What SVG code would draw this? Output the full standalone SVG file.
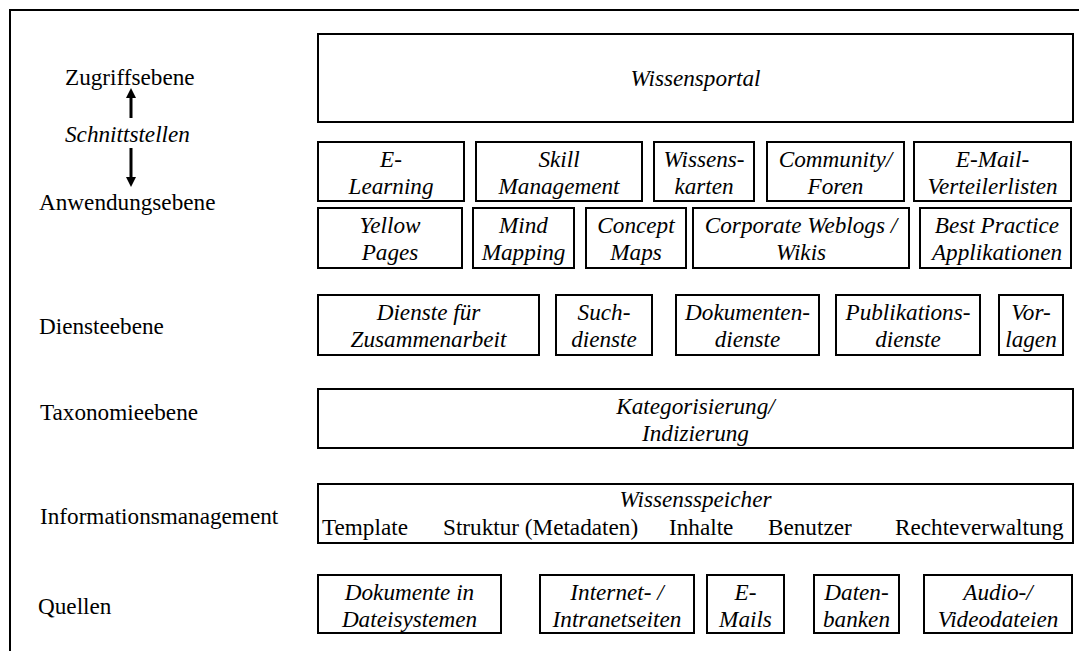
<svg xmlns="http://www.w3.org/2000/svg" width="1079" height="651" viewBox="0 0 1079 651">
  <style>
    text { font-family: "Liberation Serif", "Times New Roman", serif; font-size: 23.2px; fill: #000; }
    .it { font-style: italic; }
    .c { text-anchor: middle; }
    .box { fill: #fff; stroke: #000; stroke-width: 2; }
    .frame { fill: none; stroke: #000; stroke-width: 2; }
    .conn { stroke: #000; stroke-width: 3; fill: none; }
  </style>
  <defs>
    <marker id="head" viewBox="0 0 10 10" refX="0" refY="5" markerWidth="10" markerHeight="10" markerUnits="userSpaceOnUse" orient="auto">
      <path d="M0,0 L10,5 L0,10 Z" fill="#000"/>
    </marker>
  </defs>
  <rect width="1079" height="651" fill="#fff"/>

  <!-- open outer frame: top and left edges only -->
  <path class="frame" d="M10,651 V10 H1079"/>

  <!-- layer labels -->
  <g id="labels">
    <text x="65" y="85">Zugriffsebene</text>
    <text class="it" x="65" y="142">Schnittstellen</text>
    <text x="39" y="210">Anwendungsebene</text>
    <text x="39" y="334">Diensteebene</text>
    <text x="40" y="420">Taxonomieebene</text>
    <text x="40" y="524">Informationsmanagement</text>
    <text x="38" y="614">Quellen</text>
  </g>

  <!-- interface arrows -->
  <g id="connectors">
    <line class="conn" x1="131" y1="118" x2="131" y2="98" marker-end="url(#head)"/>
    <line class="conn" x1="131" y1="148" x2="131" y2="177" marker-end="url(#head)"/>
  </g>

  <!-- access layer -->
  <g id="wissensportal">
    <rect class="box" x="318" y="34" width="755" height="88"/>
    <text class="it c" x="695.5" y="86">Wissensportal</text>
  </g>

  <!-- application layer, row 1 -->
  <g id="e-learning">
    <rect class="box" x="318" y="142" width="146" height="59"/>
    <text class="it c" x="391" y="167">E-</text>
    <text class="it c" x="391" y="194">Learning</text>
  </g>
  <g id="skill-management">
    <rect class="box" x="476" y="142" width="166" height="59"/>
    <text class="it c" x="559" y="167">Skill</text>
    <text class="it c" x="559" y="194">Management</text>
  </g>
  <g id="wissenskarten">
    <rect class="box" x="654" y="142" width="100" height="59"/>
    <text class="it c" x="704" y="167">Wissens-</text>
    <text class="it c" x="704" y="194">karten</text>
  </g>
  <g id="community">
    <rect class="box" x="767" y="142" width="137" height="59"/>
    <text class="it c" x="835.5" y="167">Community/</text>
    <text class="it c" x="835.5" y="194">Foren</text>
  </g>
  <g id="verteilerlisten">
    <rect class="box" x="914" y="142" width="157" height="59"/>
    <text class="it c" x="992.5" y="167">E-Mail-</text>
    <text class="it c" x="992.5" y="194">Verteilerlisten</text>
  </g>

  <!-- application layer, row 2 -->
  <g id="yellow-pages">
    <rect class="box" x="318" y="208" width="144" height="60"/>
    <text class="it c" x="390" y="233">Yellow</text>
    <text class="it c" x="390" y="260">Pages</text>
  </g>
  <g id="mind-mapping">
    <rect class="box" x="473" y="208" width="101" height="60"/>
    <text class="it c" x="523.5" y="233">Mind</text>
    <text class="it c" x="523.5" y="260">Mapping</text>
  </g>
  <g id="concept-maps">
    <rect class="box" x="586" y="208" width="100" height="60"/>
    <text class="it c" x="636" y="233">Concept</text>
    <text class="it c" x="636" y="260">Maps</text>
  </g>
  <g id="weblogs-wikis">
    <rect class="box" x="693" y="208" width="216" height="60"/>
    <text class="it c" x="801" y="233">Corporate Weblogs /</text>
    <text class="it c" x="801" y="260">Wikis</text>
  </g>
  <g id="best-practice">
    <rect class="box" x="920" y="208" width="151" height="60"/>
    <text class="it c" x="997" y="233">Best Practice</text>
    <text class="it c" x="997" y="260">Applikationen</text>
  </g>

  <!-- service layer -->
  <g id="zusammenarbeit">
    <rect class="box" x="318" y="295" width="221" height="60"/>
    <text class="it c" x="428.5" y="320">Dienste für</text>
    <text class="it c" x="428.5" y="347">Zusammenarbeit</text>
  </g>
  <g id="suchdienste">
    <rect class="box" x="556" y="295" width="96" height="60"/>
    <text class="it c" x="604" y="320">Such-</text>
    <text class="it c" x="604" y="347">dienste</text>
  </g>
  <g id="dokumentendienste">
    <rect class="box" x="676" y="295" width="143" height="60"/>
    <text class="it c" x="747.5" y="320">Dokumenten-</text>
    <text class="it c" x="747.5" y="347">dienste</text>
  </g>
  <g id="publikationsdienste">
    <rect class="box" x="836" y="295" width="144" height="60"/>
    <text class="it c" x="908" y="320">Publikations-</text>
    <text class="it c" x="908" y="347">dienste</text>
  </g>
  <g id="vorlagen">
    <rect class="box" x="999" y="295" width="64" height="60"/>
    <text class="it c" x="1031" y="320">Vor-</text>
    <text class="it c" x="1031" y="347">lagen</text>
  </g>

  <!-- taxonomy layer -->
  <g id="kategorisierung">
    <rect class="box" x="318" y="389" width="755" height="59"/>
    <text class="it c" x="695.5" y="414">Kategorisierung/</text>
    <text class="it c" x="695.5" y="441">Indizierung</text>
  </g>

  <!-- information management -->
  <g id="wissensspeicher">
    <rect class="box" x="318" y="484" width="755" height="59"/>
    <text class="it c" x="695.5" y="507">Wissensspeicher</text>
    <text x="322" y="535">Template</text>
    <text x="443" y="535">Struktur (Metadaten)</text>
    <text x="669" y="535">Inhalte</text>
    <text x="768" y="535">Benutzer</text>
    <text x="895" y="535">Rechteverwaltung</text>
  </g>

  <!-- sources -->
  <g id="dateisysteme">
    <rect class="box" x="318" y="575" width="183" height="58"/>
    <text class="it c" x="409.5" y="600">Dokumente in</text>
    <text class="it c" x="409.5" y="627">Dateisystemen</text>
  </g>
  <g id="intranetseiten">
    <rect class="box" x="540" y="575" width="154" height="58"/>
    <text class="it c" x="617" y="600">Internet- /</text>
    <text class="it c" x="617" y="627">Intranetseiten</text>
  </g>
  <g id="e-mails">
    <rect class="box" x="707" y="575" width="77" height="58"/>
    <text class="it c" x="745.5" y="600">E-</text>
    <text class="it c" x="745.5" y="627">Mails</text>
  </g>
  <g id="datenbanken">
    <rect class="box" x="814" y="575" width="85" height="58"/>
    <text class="it c" x="856.5" y="600">Daten-</text>
    <text class="it c" x="856.5" y="627">banken</text>
  </g>
  <g id="videodateien">
    <rect class="box" x="924" y="575" width="148" height="58"/>
    <text class="it c" x="998" y="600">Audio-/</text>
    <text class="it c" x="998" y="627">Videodateien</text>
  </g>
</svg>
